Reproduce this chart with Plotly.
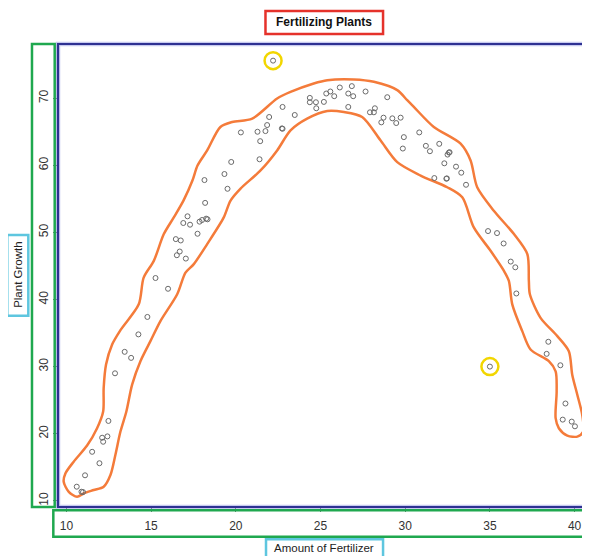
import plotly.graph_objects as go

# ---- data ----
fertilizer = [26.85, 26.14, 27.66, 25.58, 25.34, 25.81, 26.64, 26.93, 24.37, 24.37,
              24.73, 25.2, 24.75, 26.64, 28.94, 28.21, 27.92, 28.15, 28.72, 28.59,
              29.24, 29.73, 29.47, 30.83, 29.92, 31.22, 29.86, 31.46, 22.76, 23.48,
              21.97, 21.85, 21.28, 21.75, 22.72, 22.76, 20.3, 21.44, 21.4, 19.73,
              19.33, 18.15, 19.51, 18.19,
              32.01, 32.58, 32.62, 32.5, 32.31, 33.0, 33.31, 31.72, 32.43, 32.46,
              33.59, 34.89, 35.42, 35.81, 36.23, 36.5, 36.56,
              38.45, 38.35, 39.16, 39.46, 39.3, 39.83, 40.02,
              17.15, 16.9, 17.3, 17.86, 18.01, 18.25, 18.33, 17.74, 16.46, 16.75,
              16.69, 16.52, 17.05, 15.26, 16.0, 14.78,
              14.25, 13.44, 13.82, 12.87, 12.48, 12.11, 12.42, 12.17, 11.52, 11.95,
              11.1, 10.61, 10.89, 10.98]
growth = [71.8, 71.6, 71.0, 71.0, 70.7, 70.3, 70.7, 70.3, 70.05, 69.4,
          69.4, 69.45, 68.5, 68.7, 70.15, 68.5, 67.9, 67.9, 67.1, 66.4,
          67.0, 67.1, 66.3, 64.9, 64.2, 62.9, 62.5, 62.1, 68.7, 67.5,
          67.2, 66.0, 65.0, 65.1, 65.5, 65.45, 64.9, 63.6, 60.9, 60.5,
          58.7, 57.8, 56.5, 54.4,
          63.2, 61.9, 61.95, 61.6, 60.3, 59.8, 58.9, 58.1, 58.0, 58.05,
          57.1, 50.2, 49.9, 48.35, 45.65, 44.8, 40.9,
          33.7, 31.9, 30.2, 24.5, 22.1, 21.8, 21.1,
          52.4, 51.4, 51.15, 51.6, 51.85, 52.05, 51.95, 49.8, 49.0, 48.8,
          47.15, 46.6, 46.1, 43.2, 41.6, 37.4,
          34.8, 32.2, 31.3, 29.0, 21.9, 19.4, 19.6, 18.8, 17.3, 15.6,
          13.8, 12.1, 11.35, 11.3]

outlier_fertilizer = [22.2, 35.0]
outlier_growth = [75.6, 30.0]

outline_x = [9.84, 9.94, 10.43, 11.22, 11.81, 12.17, 12.20, 12.34, 12.70, 13.19,
             14.27, 14.56, 15.16, 15.75, 16.34, 16.91, 17.44, 17.74, 18.31, 19.09,
             19.79, 20.97, 22.44, 23.23, 24.60, 25.40, 26.97, 28.15, 29.53, 30.12,
             30.51, 31.69, 33.27, 33.86, 34.25, 35.23, 36.42, 37.21, 37.30, 37.36,
             37.99, 38.98, 39.66, 39.86, 40.16, 40.45, 40.51, 40.16, 39.57, 39.07,
             38.88,
             38.94, 38.88, 38.48, 37.40, 36.91, 36.32, 36.12, 35.83, 35.04, 34.05,
             33.37, 32.48, 30.91, 29.53, 28.54, 27.46, 26.38, 25.40, 24.21, 23.23,
             22.44, 21.46, 20.28, 19.69, 19.29, 18.31, 17.52, 17.03, 16.54, 15.55,
             14.96, 14.37, 13.88, 13.54, 13.19, 12.89, 12.60, 12.20, 11.61, 11.02,
             10.63, 10.14]
outline_y = [12.84, 14.08, 15.83, 18.23, 20.82, 23.31, 26.8, 30.3, 33.3, 35.43,
             39.28, 43.26, 45.76, 49.75, 52.24, 54.74, 57.73, 59.97, 62.22, 65.71,
             66.45, 66.96, 69.96, 70.94, 72.2, 72.69, 72.8, 72.44, 71.2, 69.7,
             68.7, 65.71, 63.22, 60.72, 56.73, 53.24, 49.75, 46.76, 42.77, 40.78,
             37.27, 34.54, 32.29, 28.8, 25.81, 22.82, 20.32, 19.57, 19.72, 20.82,
             22.31,
             26.31, 29.3, 30.8, 32.55, 35.29, 39.28, 42.77, 44.26, 47.26, 50.74,
             55.23, 56.73, 58.48, 60.47, 63.72, 67.2, 67.95, 68.1, 66.96, 65.21,
             62.22, 59.23, 56.53, 54.74, 52.24, 48.26, 45.27, 44.0, 40.78, 36.78,
             33.79, 30.8, 27.31, 23.31, 20.32, 16.83, 13.84, 12.09, 11.6, 11.09,
             10.6, 11.34]

x_ticks = [10, 15, 20, 25, 30, 35, 40]
y_ticks = [10, 20, 30, 40, 50, 60, 70]

title_text = "Fertilizing Plants"
x_title = "Amount of Fertilizer"
y_title = "Plant Growth"

# ---- styles ----
FONT = "Liberation Sans, Arial, sans-serif"
BLUE = "#2E3192"
GREEN = "#1FA84F"
RED = "#E5322B"
CYAN = "#5EC6DF"
ORANGE = "#F47B3A"
YELLOW = "#F2D600"
PT = "#6a6a6a"

fig = go.Figure()

fig.add_trace(go.Scatter(
    x=outline_x + [outline_x[0]], y=outline_y + [outline_y[0]],
    mode="lines", line=dict(color=ORANGE, width=2.5, shape="spline", smoothing=0.8),
    hoverinfo="skip", showlegend=False))

fig.add_trace(go.Scatter(
    x=fertilizer, y=growth, mode="markers",
    marker=dict(symbol="circle-open", size=5, color=PT, line=dict(width=1, color=PT)),
    showlegend=False))

fig.add_trace(go.Scatter(
    x=outlier_fertilizer, y=outlier_growth, mode="markers",
    marker=dict(symbol="circle-open", size=5, color=PT, line=dict(width=1, color=PT)),
    showlegend=False))

fig.add_trace(go.Scatter(
    x=outlier_fertilizer, y=outlier_growth, mode="markers",
    marker=dict(symbol="circle-open", size=17, color=YELLOW, line=dict(width=2.5, color=YELLOW)),
    showlegend=False, hoverinfo="skip"))

shapes = []
# blue plot frame (halo + line); right side runs off the picture
shapes.append(dict(type="rect", xref="paper", yref="paper", x0=0, x1=1.05, y0=0, y1=1,
                   line=dict(color="rgba(130,138,220,0.45)", width=4.5), layer="above"))
shapes.append(dict(type="rect", xref="paper", yref="paper", x0=0, x1=1.05, y0=0, y1=1,
                   line=dict(color=BLUE, width=2.2), layer="above"))
# green boxes around tick labels
shapes.append(dict(type="rect", xref="paper", yref="paper", x0=-0.0489, x1=-0.0062, y0=0.0, y1=1.0,
                   line=dict(color=GREEN, width=2.5), layer="above"))
shapes.append(dict(type="rect", xref="paper", yref="paper", x0=-0.0088, x1=1.05, y0=-0.0641, y1=-0.0070,
                   line=dict(color=GREEN, width=2.5), layer="above"))
# red title box
shapes.append(dict(type="rect", xref="paper", yref="paper", x0=0.390, x1=0.611, y0=1.0216, y1=1.0713,
                   line=dict(color=RED, width=2.5), layer="above"))
# cyan axis-title boxes
shapes.append(dict(type="rect", xref="paper", yref="paper", x0=-0.0953, x1=-0.0558, y0=0.4132, y1=0.5875,
                   line=dict(color=CYAN, width=2.5), layer="above"))
shapes.append(dict(type="rect", xref="paper", yref="paper", x0=0.391, x1=0.611, y0=-0.115, y1=-0.0698,
                   line=dict(color=CYAN, width=2.5), layer="above"))

annotations = [
    dict(text="<b>" + title_text + "</b>", xref="paper", yref="paper", x=0.5, y=1.0465,
         showarrow=False, xanchor="center", yanchor="middle",
         font=dict(family=FONT, size=12, color="#111")),
    dict(text=x_title, xref="paper", yref="paper", x=0.5, y=-0.0886,
         showarrow=False, xanchor="center", yanchor="middle",
         font=dict(family=FONT, size=11.5, color="#222")),
    dict(text=y_title, xref="paper", yref="paper", x=-0.0755, y=0.501, textangle=-90,
         showarrow=False, xanchor="center", yanchor="middle",
         font=dict(family=FONT, size=11.5, color="#222")),
]

# the page adds an 8px body margin, so the figure is 8px smaller and shifted margins
fig.update_layout(
    width=582, height=548,
    margin=dict(l=50, r=0, t=36, b=49, pad=0),
    paper_bgcolor="white", plot_bgcolor="white",
    shapes=shapes, annotations=annotations,
    xaxis=dict(range=[9.504, 40.909], tickvals=x_ticks, ticktext=[str(v) for v in x_ticks],
               showgrid=False, zeroline=False, showline=False,
               ticks="outside", ticklen=4, tickcolor="#777", tickwidth=1,
               ticklabelstandoff=4,
               tickfont=dict(family=FONT, size=12, color="#333")),
    yaxis=dict(range=[9.075, 78.08], tickvals=y_ticks, ticktext=[str(v) for v in y_ticks],
               tickangle=-90,
               showgrid=False, zeroline=False, showline=False,
               ticks="outside", ticklen=4, tickcolor="#777", tickwidth=1,
               tickfont=dict(family=FONT, size=12, color="#333")),
)

fig.write_html("out.html")
